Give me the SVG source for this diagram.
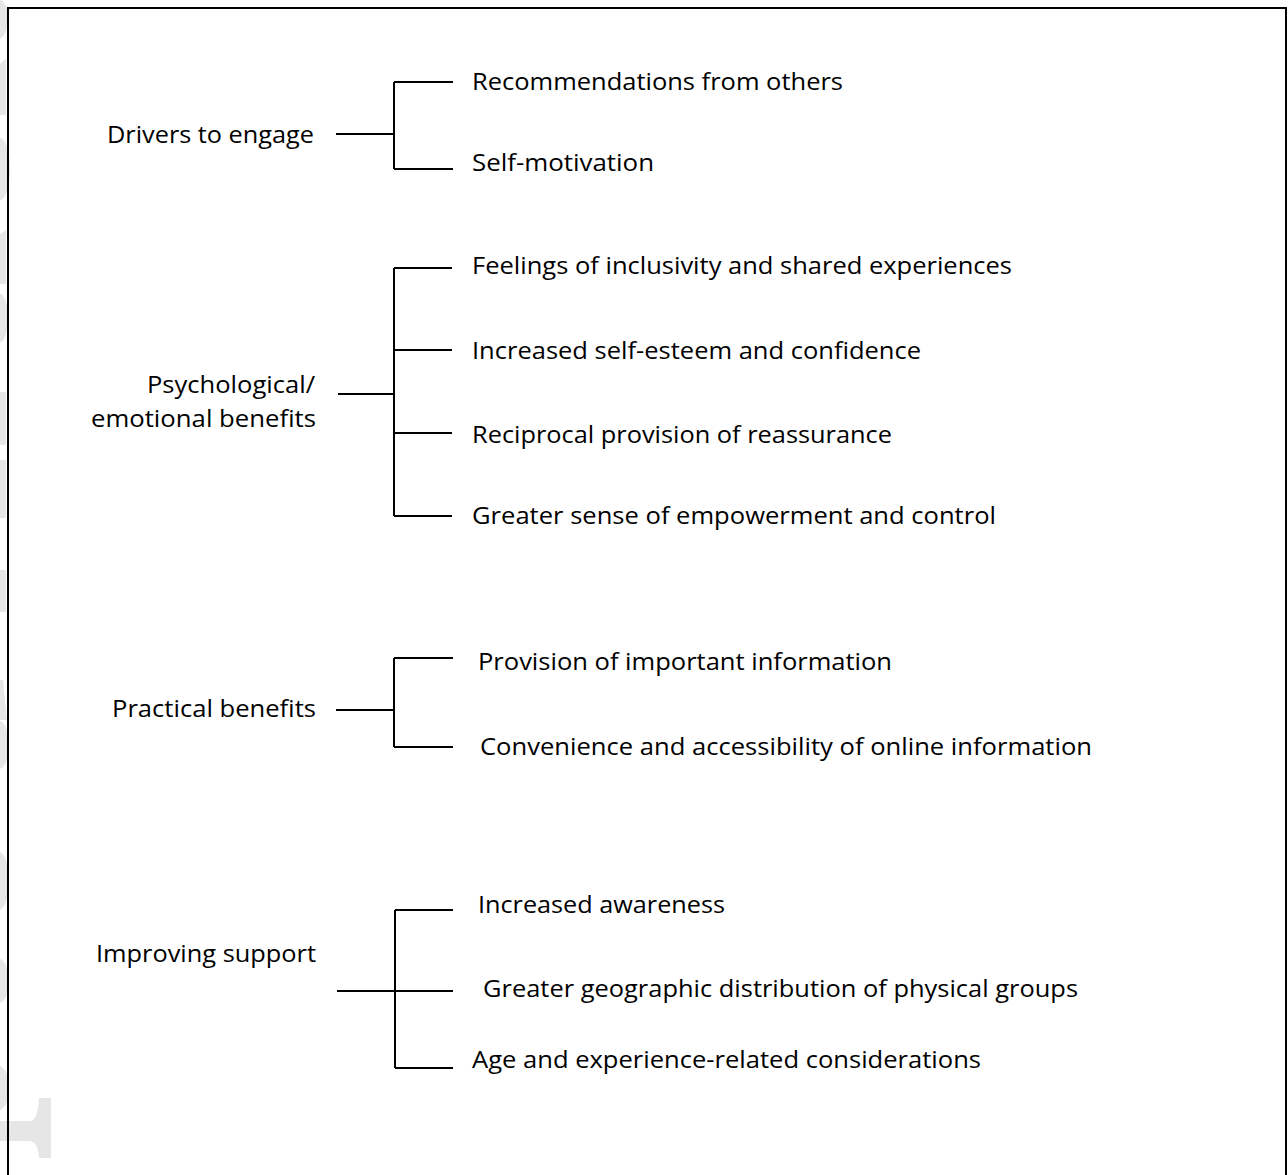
<svg xmlns="http://www.w3.org/2000/svg" width="1288" height="1175" viewBox="0 0 1288 1175">
<style>
  .t { font-family: "Open Sans", "Noto Sans", "Liberation Sans", sans-serif; font-size: 24px; fill: #000; }
  .c { stroke: #000; stroke-width: 2; fill: none; }
  .wm { fill: #e6e6e6; stroke: none; }
</style>
<rect width="1288" height="1175" fill="#fff"/>
<g id="watermark">
  <ellipse class="wm" cx="-2" cy="19" rx="10" ry="20"/>
  <path class="wm" d="M0 64 L6 58 L6 115 L0 115 Z"/>
  <ellipse class="wm" cx="0" cy="169" rx="10" ry="31"/>
  <path class="wm" d="M0 234 L6 230 L6 284 L0 284 Z"/>
  <ellipse class="wm" cx="-1" cy="318" rx="9" ry="25"/>
  <rect class="wm" x="0" y="392" width="6" height="53"/>
  <rect class="wm" x="0" y="460" width="6" height="58"/>
  <rect class="wm" x="0" y="570" width="6" height="42"/>
  <path class="wm" d="M0 680 L3 680 L7 720 L0 720 Z"/>
  <ellipse class="wm" cx="-1" cy="745" rx="10" ry="24"/>
  <ellipse class="wm" cx="-1" cy="881" rx="10" ry="29"/>
  <ellipse class="wm" cx="-1" cy="981" rx="10" ry="22"/>
  <ellipse class="wm" cx="-1" cy="1088" rx="10" ry="22"/>
  <path class="wm" d="M0 1121 L30 1121 Q38 1120 39 1098 L51 1098 L51 1158 L39 1158 Q38 1142 30 1141 L0 1141 Z"/>
</g>
<rect id="frame" x="8" y="8" width="1278" height="1200" fill="none" stroke="#000" stroke-width="2"/>
<g id="connectors">
  <path class="c" d="M336 134 H394 M394 82 V169 M394 82 H453 M394 169 H453"/>
  <path class="c" d="M338 394 H394 M394 268 V516 M394 268 H452 M394 350 H452 M394 433 H452 M394 516 H452"/>
  <path class="c" d="M336 710 H394 M394 658 V747 M394 658 H453 M394 747 H453"/>
  <path class="c" d="M337 991 H395 M395 910 V1068 M395 910 H453 M395 991 H453 M395 1068 H453"/>
</g>
<g id="node-drivers"><text class="t" x="107" y="143" textLength="207" lengthAdjust="spacingAndGlyphs">Drivers to engage</text></g>
<g id="node-recommendations"><text class="t" x="472" y="90" textLength="371" lengthAdjust="spacingAndGlyphs">Recommendations from others</text></g>
<g id="node-self-motivation"><text class="t" x="472" y="171" textLength="182" lengthAdjust="spacingAndGlyphs">Self-motivation</text></g>
<g id="node-psych">
  <text class="t" x="147" y="393" textLength="168" lengthAdjust="spacingAndGlyphs">Psychological/</text>
  <text class="t" x="91" y="427" textLength="225" lengthAdjust="spacingAndGlyphs">emotional benefits</text>
</g>
<g id="node-feelings"><text class="t" x="472" y="274" textLength="540" lengthAdjust="spacingAndGlyphs">Feelings of inclusivity and shared experiences</text></g>
<g id="node-selfesteem"><text class="t" x="472" y="359" textLength="449" lengthAdjust="spacingAndGlyphs">Increased self-esteem and confidence</text></g>
<g id="node-reciprocal"><text class="t" x="472" y="443" textLength="420" lengthAdjust="spacingAndGlyphs">Reciprocal provision of reassurance</text></g>
<g id="node-empowerment"><text class="t" x="472" y="524" textLength="524" lengthAdjust="spacingAndGlyphs">Greater sense of empowerment and control</text></g>
<g id="node-practical"><text class="t" x="112" y="717" textLength="204" lengthAdjust="spacingAndGlyphs">Practical benefits</text></g>
<g id="node-provision"><text class="t" x="478" y="670" textLength="414" lengthAdjust="spacingAndGlyphs">Provision of important information</text></g>
<g id="node-convenience"><text class="t" x="480" y="755" textLength="612" lengthAdjust="spacingAndGlyphs">Convenience and accessibility of online information</text></g>
<g id="node-improving"><text class="t" x="96" y="962" textLength="220" lengthAdjust="spacingAndGlyphs">Improving support</text></g>
<g id="node-awareness"><text class="t" x="478" y="913" textLength="247" lengthAdjust="spacingAndGlyphs">Increased awareness</text></g>
<g id="node-geographic"><text class="t" x="483" y="997" textLength="595" lengthAdjust="spacingAndGlyphs">Greater geographic distribution of physical groups</text></g>
<g id="node-age"><text class="t" x="472" y="1068" textLength="509" lengthAdjust="spacingAndGlyphs">Age and experience-related considerations</text></g>
</svg>
